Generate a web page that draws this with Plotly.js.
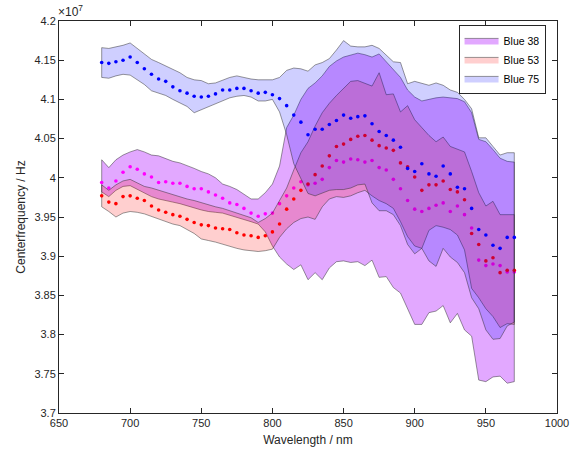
<!DOCTYPE html>
<html>
<head>
<meta charset="utf-8">
<script src="https://cdn.plot.ly/plotly-3.0.1.min.js"></script>
<style>
  html, body { margin: 0; padding: 0; background: #ffffff; }
  #chart { width: 584px; height: 450px; }
</style>
</head>
<body>
<div id="chart"></div>
<script>
// Wavelength samples (nm)
const wavelength = [680,685,690,695,700,705,710,715,720,725,
                    730,735,740,745,750,755,760,765,770,775,
                    780,785,790,795,800,805,810,815,820,825,
                    830,835,840,845,850,855,860,865,870,875,
                    880,885,890,895,900,905,910,915,920,925,
                    930,935,940,945,950,955,960,965,970];

// Centre frequency values in units of 1e7 Hz
const blue38Mean = [3.994,3.987,3.996,4.007,4.014,4.011,4.005,4.001,3.994,3.995,
                    3.993,3.993,3.989,3.986,3.986,3.982,3.978,3.974,3.968,3.966,
                    3.961,3.955,3.951,3.954,3.955,3.967,3.977,3.987,3.995,3.991,
                    3.993,3.998,4.013,4.022,4.020,4.024,4.023,4.020,4.022,4.013,
                    4.010,3.998,3.986,3.971,3.960,3.957,3.961,3.965,3.968,3.957,
                    3.964,3.953,3.936,3.895,3.888,3.890,3.888,3.880,3.880];
const blue38Upper = [4.023,4.013,4.023,4.029,4.033,4.036,4.033,4.029,4.028,4.024,
                     4.021,4.019,4.016,4.012,4.008,4.005,4.000,3.992,3.989,3.985,
                     3.979,3.973,3.973,3.981,3.992,4.015,4.064,4.080,4.100,4.114,
                     4.121,4.130,4.142,4.149,4.154,4.157,4.159,4.157,4.154,4.158,
                     4.148,4.138,4.128,4.112,4.103,4.098,4.100,4.102,4.103,4.102,
                     4.101,4.097,4.083,4.049,4.046,4.036,4.025,4.021,4.020];
const blue38Lower = [3.982,3.976,3.984,3.989,3.990,3.986,3.981,3.976,3.973,3.971,
                     3.969,3.967,3.964,3.962,3.959,3.957,3.956,3.955,3.953,3.950,
                     3.947,3.944,3.941,3.931,3.913,3.899,3.890,3.883,3.889,3.870,
                     3.879,3.870,3.885,3.893,3.894,3.892,3.893,3.888,3.895,3.873,
                     3.874,3.860,3.853,3.834,3.813,3.813,3.828,3.830,3.837,3.815,
                     3.827,3.806,3.798,3.742,3.740,3.746,3.747,3.738,3.740];

const blue53Mean = [3.977,3.969,3.967,3.976,3.977,3.974,3.971,3.964,3.959,3.956,
                    3.953,3.951,3.947,3.943,3.940,3.939,3.936,3.935,3.934,3.930,
                    3.927,3.926,3.924,3.926,3.931,3.941,3.960,3.973,3.984,3.992,
                    4.004,4.015,4.028,4.040,4.043,4.049,4.053,4.054,4.048,4.041,
                    4.038,4.035,4.019,4.014,4.001,3.984,3.991,3.991,3.996,3.985,
                    3.982,3.972,3.929,3.915,3.894,3.898,3.879,3.882,3.882];
const blue53Upper = [3.991,3.984,3.991,3.996,3.998,3.994,3.989,3.987,3.984,3.981,
                     3.978,3.975,3.973,3.971,3.968,3.965,3.963,3.961,3.958,3.955,
                     3.952,3.949,3.943,3.948,3.955,3.971,3.987,4.010,4.032,4.046,
                     4.066,4.083,4.095,4.105,4.114,4.123,4.124,4.120,4.117,4.134,
                     4.106,4.107,4.084,4.092,4.074,4.064,4.054,4.046,4.052,4.040,
                     4.036,4.033,4.008,3.981,3.964,3.970,3.953,3.953,3.953];
const blue53Lower = [3.963,3.957,3.950,3.955,3.957,3.956,3.954,3.950,3.947,3.944,
                     3.941,3.939,3.934,3.929,3.922,3.920,3.918,3.915,3.913,3.910,
                     3.908,3.907,3.906,3.907,3.909,3.924,3.935,3.943,3.948,3.950,
                     3.947,3.963,3.973,3.976,3.975,3.977,3.981,3.984,3.977,3.971,
                     3.967,3.961,3.944,3.925,3.913,3.910,3.933,3.939,3.937,3.934,
                     3.927,3.908,3.859,3.847,3.833,3.823,3.809,3.814,3.813];

const blue75Mean = [4.147,4.146,4.148,4.150,4.154,4.147,4.139,4.132,4.126,4.123,
                    4.116,4.111,4.108,4.104,4.103,4.104,4.107,4.112,4.112,4.114,
                    4.114,4.111,4.108,4.109,4.106,4.101,4.092,4.080,4.071,4.055,
                    4.062,4.062,4.068,4.073,4.080,4.076,4.078,4.079,4.069,4.059,
                    4.054,4.048,4.039,4.012,4.008,4.018,4.005,4.002,4.015,4.005,
                    3.988,3.986,3.961,3.934,3.927,3.914,3.910,3.924,3.924];
const blue75Upper = [4.166,4.165,4.167,4.169,4.172,4.165,4.157,4.151,4.147,4.143,
                     4.139,4.134,4.128,4.125,4.124,4.120,4.121,4.125,4.128,4.130,
                     4.128,4.126,4.125,4.125,4.125,4.128,4.137,4.140,4.139,4.136,
                     4.144,4.147,4.152,4.163,4.175,4.168,4.167,4.167,4.169,4.165,
                     4.156,4.148,4.147,4.120,4.123,4.120,4.118,4.121,4.118,4.112,
                     4.109,4.100,4.088,4.051,4.051,4.040,4.029,4.032,4.032];
const blue75Lower = [4.128,4.127,4.130,4.132,4.131,4.125,4.119,4.111,4.108,4.105,
                     4.100,4.095,4.091,4.083,4.086,4.090,4.095,4.098,4.102,4.104,
                     4.105,4.103,4.098,4.098,4.100,4.084,4.055,4.018,4.000,3.980,
                     3.977,3.980,3.984,3.985,3.985,3.987,3.991,3.992,3.968,3.958,
                     3.958,3.953,3.939,3.915,3.903,3.910,3.894,3.887,3.910,3.899,
                     3.892,3.879,3.847,3.833,3.806,3.794,3.795,3.811,3.816];

const seriesNames = ['Blue 38', 'Blue 53', 'Blue 75'];
const xTickVals = [650, 700, 750, 800, 850, 900, 950, 1000];
const yTickVals = [3.7, 3.75, 3.8, 3.85, 3.9, 3.95, 4.0, 4.05, 4.1, 4.15, 4.2];
const yTickText = ['3.7', '3.75', '3.8', '3.85', '3.9', '3.95', '4', '4.05', '4.1', '4.15', '4.2'];

function band(name, upper, lower, fillcolor) {
  const xs = wavelength.concat(wavelength.slice().reverse(), [wavelength[0]]);
  const ys = upper.concat(lower.slice().reverse(), [upper[0]]);
  return {
    type: 'scatter', mode: 'lines', name: name,
    x: xs, y: ys, fill: 'toself', fillcolor: fillcolor,
    line: { color: 'rgba(40,40,40,0.6)', width: 0.8 },
    hoverinfo: 'skip'
  };
}
function dots(mean, color) {
  return {
    type: 'scatter', mode: 'markers', x: wavelength, y: mean,
    marker: { color: color, size: 3.6, line: { width: 0 } },
    showlegend: false, hoverinfo: 'skip'
  };
}

const data = [
  band(seriesNames[0], blue38Upper, blue38Lower, 'rgba(178,26,255,0.38)'),
  dots(blue38Mean, '#ff00ff'),
  band(seriesNames[1], blue53Upper, blue53Lower, 'rgba(255,0,0,0.19)'),
  dots(blue53Mean, '#ff0000'),
  band(seriesNames[2], blue75Upper, blue75Lower, 'rgba(0,0,255,0.19)'),
  dots(blue75Mean, '#0000ff')
];

const axisCommon = {
  ticks: 'inside', ticklen: 5, tickwidth: 1, tickcolor: '#262626',
  showline: true, linecolor: '#262626', linewidth: 1, mirror: 'ticks',
  showgrid: false, zeroline: false,
  tickfont: { size: 11, color: '#262626' }
};

const layout = {
  width: 584, height: 450,
  margin: { l: 59, r: 27, t: 21, b: 37 },
  paper_bgcolor: '#ffffff', plot_bgcolor: '#ffffff',
  font: { family: 'Liberation Sans, Arial, Helvetica, sans-serif', size: 11, color: '#262626' },
  showlegend: true,
  xaxis: Object.assign({}, axisCommon, {
    range: [650, 1000], tickvals: xTickVals,
    title: { text: 'Wavelength / nm', font: { size: 12, color: '#262626' }, standoff: 7 }
  }),
  yaxis: Object.assign({}, axisCommon, {
    range: [3.7, 4.2], tickvals: yTickVals, ticktext: yTickText,
    title: { text: 'Centerfrequency / Hz', font: { size: 12, color: '#262626' }, standoff: 6 }
  }),
  legend: {
    x: 0.977, y: 0.99, xanchor: 'right', yanchor: 'top',
    bgcolor: '#ffffff', bordercolor: '#262626', borderwidth: 1,
    font: { size: 10.5, color: '#000000' }, tracegroupgap: 0, itemwidth: 34
  },
  annotations: [{
    text: '×10<sup>7</sup>', xref: 'paper', yref: 'paper', x: 0, y: 1,
    xanchor: 'left', yanchor: 'bottom', showarrow: false, yshift: 0, xshift: -3,
    font: { size: 12, color: '#262626' }
  }]
};

Plotly.newPlot('chart', data, layout, { displayModeBar: false, staticPlot: true });
</script>
</body>
</html>
